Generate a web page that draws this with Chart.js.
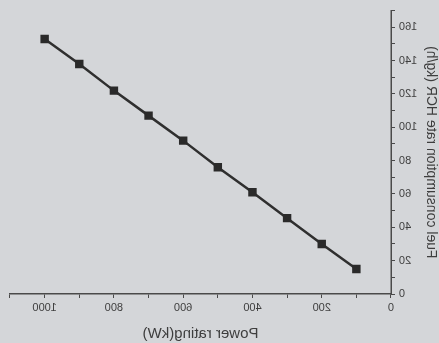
<!DOCTYPE html>
<html>
<head>
<meta charset="utf-8">
<script src="https://cdn.jsdelivr.net/npm/chart.js@4.4.1/dist/chart.umd.min.js"></script>
<style>
  html, body { margin: 0; padding: 0; background: #d4d6d9; overflow: hidden; }
  /* the photo shows the figure mirrored left-right */
  #wrap { width: 439px; height: 343px; transform: scaleX(-1); }
</style>
</head>
<body>
<div id="wrap"><canvas id="fuelChart" width="439" height="343"></canvas></div>
<script>
const powerRating = [100, 200, 300, 400, 500, 600, 700, 800, 900, 1000]
const fuelRate = [15, 30, 45.5, 61, 76, 92, 107, 122, 138, 153]
const xTickLabels = ['0', '200', '400', '600', '800', '1000']
const yTickLabels = ['0', '20', '40', '60', '80', '100', '120', '140', '160']

const axisColor = '#4a4a4a'
const textColor = '#3e3e3e'

new Chart(document.getElementById('fuelChart'), {
  type: 'line',
  data: {
    datasets: [
      {
        data: powerRating.map((p, i) => ({ x: p, y: fuelRate[i] })),
        borderColor: '#2f2f2f',
        borderWidth: 2.5,
        pointStyle: 'rect',
        pointRadius: 4.2,
        pointBackgroundColor: '#2a2a2a',
        pointBorderColor: '#2a2a2a',
        tension: 0,
      },
    ],
  },
  options: {
    responsive: false,
    animation: false,
    layout: { padding: { top: 7, right: 10, left: 0, bottom: 0 } },
    plugins: { legend: { display: false }, tooltip: { enabled: false } },
    scales: {
      x: {
        type: 'linear',
        min: 0,
        max: 1100,
        border: { color: axisColor, width: 1.5 },
        grid: { drawOnChartArea: false, tickColor: axisColor, tickLength: 4 },
        ticks: {
          stepSize: 100,
          color: textColor,
          font: { family: 'Liberation Sans', size: 11 },
          padding: 3,
          maxRotation: 0,
          callback: (v) => (xTickLabels.includes(String(v)) ? String(v) : ''),
        },
        title: {
          display: true,
          text: 'Power rating(kW)',
          color: textColor,
          font: { family: 'Liberation Sans', size: 15 },
          padding: { top: 2, bottom: 0 },
        },
        afterFit: (scale) => { scale.height = 49 },
      },
      y: {
        min: 0,
        max: 170,
        border: { color: axisColor, width: 1.5 },
        grid: { drawOnChartArea: false, tickColor: axisColor, tickLength: 4 },
        ticks: {
          stepSize: 10,
          color: textColor,
          font: { family: 'Liberation Sans', size: 11 },
          padding: 4,
          callback: (v) => (yTickLabels.includes(String(v)) ? String(v) : ''),
        },
        title: {
          display: true,
          text: 'Fuel consumption rate HCR (kg/h)',
          color: textColor,
          font: { family: 'Liberation Sans', size: 14 },
          padding: { top: 0, bottom: 2 },
        },
        afterFit: (scale) => { scale.width = 48 },
      },
    },
  },
})
</script>
</body>
</html>
